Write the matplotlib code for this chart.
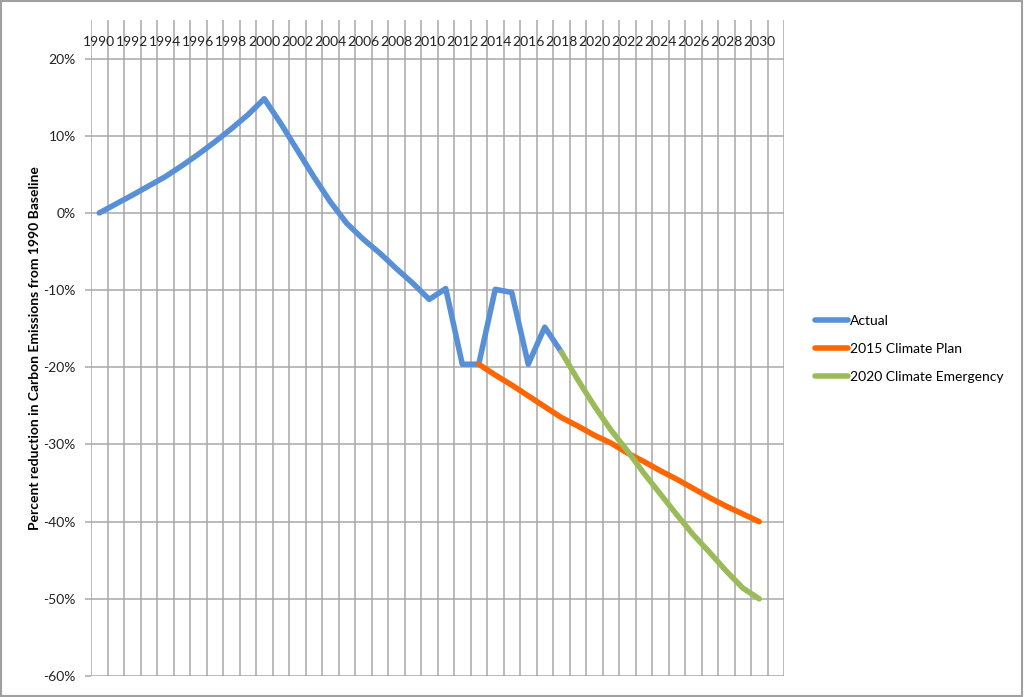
import matplotlib.pyplot as plt
from matplotlib.patches import Rectangle

# values (percent vs. 1990)
actual_years = list(range(1990, 2019))
actual = [0, 1.15, 2.3, 3.5, 4.7, 6.1, 7.6, 9.2, 10.9, 12.7,
          14.8, 11.6, 8.15, 4.7, 1.45, -1.35, -3.4, -5.2, -7.2, -9.1,
          -11.2, -9.8, -19.6, -19.6, -9.9, -10.3, -19.6, -14.8, -18.0]

plan_years = list(range(2013, 2031))
plan_2015 = [-19.6, -21.0, -22.3, -23.7, -25.1, -26.5, -27.6, -28.8, -29.8,
             -31.1, -32.2, -33.4, -34.5, -35.7, -36.9, -38.0, -39.0, -40.0]

emergency_years = list(range(2018, 2031))
emergency_2020 = [-18.0, -21.6, -25.0, -28.1, -30.8, -33.7, -36.4, -39.1,
                  -41.7, -44.0, -46.4, -48.6, -50.0]

year_labels = list(range(1990, 2031, 2))
y_ticks = list(range(-60, 21, 10))

plt.rcParams['font.family'] = ['Lato', 'DejaVu Sans']

fig = plt.figure(figsize=(10.24, 6.97), dpi=100)
ax = fig.add_axes([91 / 1024, 1 - 676 / 697, 693 / 1024, 656 / 697])

lw = 4.0
ax.plot(actual_years, actual, color='#5890D8', lw=lw, label='Actual',
        solid_capstyle='round', solid_joinstyle='round', zorder=3)
ax.plot(plan_years, plan_2015, color='#FF6600', lw=lw, label='2015 Climate Plan',
        solid_capstyle='round', solid_joinstyle='round', zorder=4)
ax.plot(emergency_years, emergency_2020, color='#9BBB59', lw=lw,
        label='2020 Climate Emergency',
        solid_capstyle='round', solid_joinstyle='round', zorder=5)

ax.set_xlim(1989.5, 2031.5)
ax.set_ylim(-60, 25)

# vertical lines between the year categories
ax.set_xticks([])
ax.set_xticks([1989.5 + k for k in range(43)], minor=True)
ax.tick_params(axis='x', which='minor', length=0, labelbottom=False)
ax.grid(True, axis='x', which='minor', color='#A8A8A8', lw=1.1)

ax.set_yticks(y_ticks)
ax.set_yticklabels(['{}%'.format(v) for v in y_ticks], fontsize=10, color='#222222')
ax.tick_params(axis='y', length=4, color='#A8A8A8', width=1.1, pad=7)
ax.grid(True, axis='y', which='major', color='#A8A8A8', lw=1.1)

for s in ax.spines.values():
    s.set_visible(False)

for yr in year_labels:
    ax.text(yr, 22.2, str(yr), ha='center', va='center', fontsize=10, color='#222222')

fig.text(35 / 1024, 1 - 348 / 697,
         'Percent reduction in Carbon Emissions from 1990 Baseline',
         rotation=90, ha='center', va='center', fontsize=10, fontweight='bold')

fig.legend(loc='center left', bbox_to_anchor=(815 / 1024, 1 - 349 / 697),
           frameon=False, fontsize=10, handlelength=2.4, handletextpad=0.1,
           labelspacing=1.15, borderpad=0, borderaxespad=0)

fig.patches.append(Rectangle((0.001, 0.002), 0.997, 0.996, transform=fig.transFigure,
                             fill=False, edgecolor='#A0A0A0', lw=1.5))

fig.savefig('out.png', dpi=100)
